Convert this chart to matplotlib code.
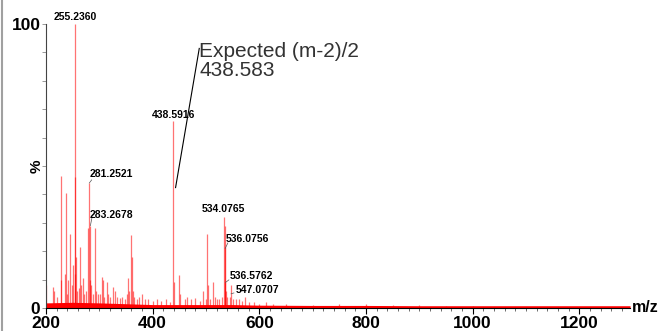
import matplotlib
matplotlib.use("Agg")
import matplotlib.pyplot as plt
from matplotlib.lines import Line2D

plt.rcParams['font.family'] = ['Liberation Sans', 'DejaVu Sans']

# peak list (m/z, relative intensity %)
peak_mz = [200.5, 212.5, 215, 220, 227.5, 229, 235, 237, 239, 241, 245, 248, 250,
           253.8, 254.5, 255.236, 256.2, 258, 262, 264, 266, 270, 272, 276, 279.5,
           281.2521, 282.3, 283.2678, 285, 288, 292.5, 294, 298, 302, 305, 306.5,
           309, 313.7, 316, 320, 325, 329, 333, 338, 342, 348, 352, 354, 356,
           358.7, 360.6, 363, 366, 370, 375, 380.5, 385, 392, 400, 408, 415, 425,
           432, 438.5916, 440, 448.7, 451, 460, 465, 472, 480, 488, 495, 500,
           502.4, 504, 508, 513.6, 516, 520, 525, 530, 534.0765, 535.08, 536.0756,
           536.5762, 537.5, 540, 545, 547.0707, 550, 556, 562, 568, 573, 580, 590,
           600, 612, 625, 650, 700, 750, 800, 850, 900, 950, 1000]
peak_int = [8, 7.5, 6, 4, 46.5, 10, 12, 40.5, 5, 10, 26, 8, 15,
            46, 12, 100, 18, 6, 7, 21.5, 8, 10.5, 5, 6, 28,
            44, 10, 29, 8, 5, 28, 6, 5, 5, 11, 10,
            4, 9, 5, 4, 7.5, 6, 4, 3.5, 4, 3, 5, 10.5, 6,
            25.7, 18, 6, 4, 3, 4, 5, 3, 3, 2.5, 3, 2.5, 3,
            2, 65.8, 9, 11.6, 5, 3, 4, 3, 3.5, 2.5, 6, 3,
            26, 8, 3, 9, 4, 3, 3, 4, 32, 29, 21.5,
            9, 6, 4, 4, 8, 3, 3, 3, 2.5, 4, 2, 2,
            1.5, 2, 1.5, 1.5, 1.2, 1.4, 1.3, 1.0, 1.0, 0.8, 0.8]

# noise floor envelope
base_mz = [200, 250, 300, 350, 400, 450, 500, 550, 600, 700, 800, 900, 1000, 1100, 1200, 1295]
base_int = [1.8, 2.0, 1.8, 1.5, 1.2, 1.2, 1.2, 1.2, 1.0, 0.9, 0.9, 0.8, 0.8, 0.8, 0.8, 0.8]

# labelled peaks: text, text x, text y, alignment
labels = [
    ("255.2360", 255, 102.6, "center"),
    ("438.5916", 438.6, 68.0, "center"),
    ("281.2521", 281.2, 47.1, "left"),
    ("283.2678", 282.5, 32.7, "left"),
    ("534.0765", 532.7, 34.8, "center"),
    ("536.0756", 536.1, 24.2, "left"),
    ("536.5762", 543.6, 11.2, "left"),
    ("547.0707", 554.8, 6.4, "left"),
]

fig = plt.figure(figsize=(6.66, 3.31), dpi=100)
ax = fig.add_axes([0.069, 0.0695, 0.877, 0.858])

ax.fill_between(base_mz, 0, base_int, color="red", lw=0)
ax.vlines(peak_mz, 0, peak_int, color="red", lw=0.9, alpha=0.55)

ax.set_xlim(200, 1295)
ax.set_ylim(0, 100)

for s in ["top", "right"]:
    ax.spines[s].set_visible(False)
ax.spines["left"].set_color("#444444")
ax.spines["bottom"].set_color("black")

ax.set_xticks([200, 400, 600, 800, 1000, 1200])
ax.set_xticks(range(220, 1295, 20), minor=True)
ax.set_yticks([0, 10, 20, 30, 40, 50, 60, 70, 80, 90, 100])
ax.set_yticklabels(["0", "", "", "", "", "", "", "", "", "", "100"])
ax.tick_params(axis="x", which="major", length=4, width=0.8, labelsize=12.5, pad=2)
ax.tick_params(axis="x", which="minor", length=2, width=0.6, color="#555555")
ax.tick_params(axis="y", length=3, width=0.6, color="#888888", labelsize=12.5, pad=1)
for t in ax.get_xticklabels() + ax.get_yticklabels():
    t.set_fontweight("bold")

ax.text(1.004, 0, "m/z", transform=ax.transAxes, fontsize=11.5, fontweight="bold",
        ha="left", va="center")
ax.text(-0.004, 0.5, "%", transform=ax.transAxes, fontsize=11, fontweight="bold",
        rotation=90, ha="right", va="center")

for txt, tx, ty, al in labels:
    ax.text(tx, ty, txt, fontsize=7.5, fontweight="bold", ha=al, va="center", clip_on=False)

# leader ticks for the side labels
ax.plot([281.25, 285.7], [44, 45.1], color="#555555", lw=0.5)
ax.plot([283.27, 286.2], [29, 31.7], color="#555555", lw=0.5)
ax.plot([536.08, 541], [21, 22.9], color="#555555", lw=0.5)
ax.plot([536.6, 543], [9, 9.9], color="#555555", lw=0.5)
ax.plot([547.07, 552.4], [5, 5.3], color="#555555", lw=0.5)

# expected mass callout
ax.plot([443, 487.4], [42.4, 91.4], color="black", lw=0.8)
ax.text(487.5, 93.5, "Expected (m-2)/2\n438.583", fontsize=15, color="#333333",
        ha="left", va="top", linespacing=1.0)

fig.add_artist(Line2D([0.003, 0.003], [0, 1], color="#a0a0a0", lw=1.5))

fig.savefig("out.png", dpi=100)
